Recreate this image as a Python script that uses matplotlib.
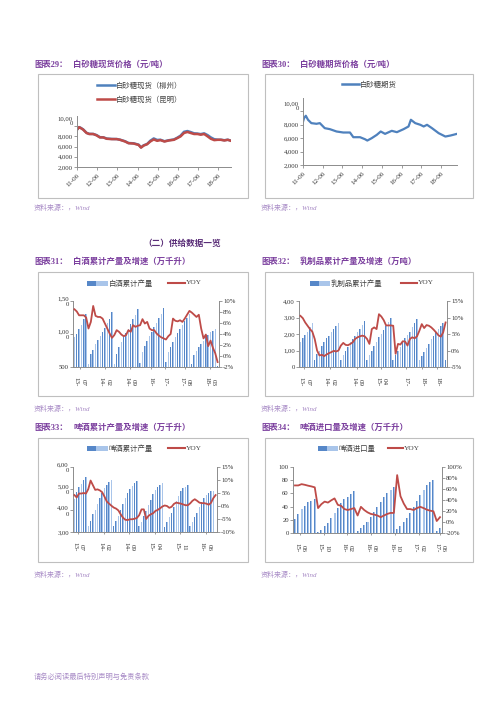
import numpy as np
import matplotlib
matplotlib.use('Agg')
from matplotlib import pyplot as plt
from matplotlib.patches import Rectangle
from matplotlib.lines import Line2D

plt.rcParams['font.family'] = ['Liberation Serif', 'Noto Sans CJK SC']

# ---------------- data ----------------
# fig 29: sugar spot price, yuan/t (x = decimal year)
spot_t = [2011.42, 2011.52, 2011.59, 2011.72, 2011.89, 2012.02, 2012.22, 2012.39, 2012.55, 2012.72,
          2012.89, 2013.14, 2013.39, 2013.55, 2013.80, 2013.97, 2014.22, 2014.47, 2014.59, 2014.72,
          2014.89, 2015.05, 2015.22, 2015.39, 2015.55, 2015.75, 2015.97, 2016.22, 2016.39, 2016.55,
          2016.72, 2016.89, 2017.05, 2017.22, 2017.39, 2017.55, 2017.72, 2017.89, 2018.05, 2018.22,
          2018.39, 2018.55, 2018.72, 2018.89, 2019.05]
spot_liuzhou = [9350, 9820, 9700, 9380, 8700, 8500, 8480, 8250, 7850, 7820,
                7580, 7500, 7480, 7350, 7050, 6700, 6650, 6380, 5850, 6250,
                6500, 7150, 7600, 7300, 7350, 7050, 7250, 7400, 7750, 8150,
                8900, 9050, 8850, 8600, 8550, 8450, 8600, 8250, 7800, 7450,
                7350, 7350, 7250, 7350, 7150]
spot_kunming = [9333, 9800, 9667, 9333, 8667, 8467, 8467, 8200, 7800, 7800,
                7533, 7467, 7467, 7333, 7000, 6667, 6600, 6333, 5800, 6200,
                6467, 7000, 7400, 7133, 7267, 7000, 7200, 7333, 7667, 8000,
                8667, 8867, 8667, 8467, 8467, 8333, 8467, 8000, 7533, 7267,
                7333, 7333, 7200, 7333, 7133]
sugar_ticks = ['11-06', '12-06', '13-06', '14-06', '15-06', '16-06', '17-06', '18-06']

# fig 30: sugar futures price
fut_t = [2011.42, 2011.47, 2011.56, 2011.67, 2011.84, 2012.10, 2012.27, 2012.52, 2012.78, 2013.12,
         2013.46, 2013.80, 2013.97, 2014.31, 2014.56, 2014.68, 2014.90, 2015.16, 2015.36, 2015.58,
         2015.92, 2016.18, 2016.52, 2016.77, 2016.89, 2017.11, 2017.37, 2017.54, 2017.71, 2017.96,
         2018.30, 2018.64, 2018.90, 2019.23]
fut_price = [8500, 9000, 9350, 8750, 8250, 8150, 8250, 7500, 7350, 7000,
             6850, 6850, 6150, 6150, 5850, 5650, 6000, 6500, 7000, 6650,
             7100, 6900, 7350, 7750, 8750, 8250, 8000, 7750, 8000, 7500,
             6750, 6250, 6400, 6650]

# fig 31: baijiu cumulative output and yoy
baijiu_prod = [950, 1000, 1075, 1130, 1225, 1300,
               550, 700, 765, 850, 915, 975, 1025, 1085, 1165, 1230, 1340,
               550, 700, 800, 875, 950, 1010, 1075, 1150, 1225, 1285, 1375,
               565, 725, 815, 900, 975, 1025, 1100, 1160, 1235, 1305, 1390,
               570, 720, 800, 880, 950, 1010, 1070, 1130, 1190, 1240, 1300,
               550, 675, 750, 800, 850, 900, 950, 985, 1025, 1050, 1075,
               520]
baijiu_yoy = [8.5, 8.1, 7.4, 7.4, 7.4, 7.0, 5.0, 6.2, 9.1, 7.3,
              7.1, 7.1, 6.8, 5.9, 5.0, 4.1, 3.3, 3.8, 4.7, 4.4,
              3.9, 3.6, 3.8, 4.7, 4.4, 5.6, 5.3, 5.5, 5.6, 6.7,
              5.9, 6.2, 5.0, 4.7, 4.7, 4.1, 3.7, 3.4, 3.2, 3.0,
              3.6, 4.0, 6.8, 6.4, 6.3, 6.5, 6.2, 6.8, 7.5, 8.2,
              7.9, 7.5, 7.1, 7.5, 5.0, 3.2, 3.9, 1.8, 2.8, 1.5,
              0.5, -1.1]
baijiu_labels = ['13-07', '14-02', '14-09', '16-', '17-', '17-08', '18-03']

# fig 32: dairy cumulative output and yoy
dairy_prod = [1500, 1740, 1940, 2100, 2400, 2660,
              400, 800, 1000, 1300, 1500, 1740, 1900, 2100, 2300, 2500, 2660,
              400, 700, 1000, 1200, 1500, 1700, 1900, 2100, 2300, 2540, 2800,
              400, 700, 1000, 1300, 1540, 1800, 2000, 2260, 2460, 2700, 3000,
              400, 700, 940, 1200, 1500, 1740, 1940, 2140, 2400, 2660, 2900,
              400, 660, 900, 1140, 1400, 1700, 1900, 2100, 2300, 2500, 2690,
              400]
dairy_yoy = [10.5, 9.8, 8.5, 7.5, 6.5, 5.7, 3.5, 0.0, -1.5, -1.3,
             -1.7, -1.2, -0.8, -0.5, -0.1, -0.3, 0.0, 1.5, 2.3, 1.7,
             1.6, 2.0, 2.5, 3.5, 4.0, 4.3, 4.5, 4.3, 3.5, 2.0,
             6.5, 7.0, 6.5, 11.0, 10.3, 9.2, 7.6, 7.6, 7.6, 7.5,
             -1.0, 2.0, 1.8, 2.8, 2.7, 1.5, 3.5, 4.0, 3.7, 4.3,
             6.0, 8.0, 6.8, 7.7, 7.5, 7.0, 6.3, 5.5, 4.6, 4.2,
             5.5, 8.5]
dairy_labels = ['13-07', '14-02', '14-09', '15-04', '17-', '18-', '18-']

# fig 33: beer cumulative output and yoy
beer_prod = [4540, 4850, 5080, 5230, 5380, 5540,
             3300, 3525, 3825, 4005, 4275, 4575, 4800, 5025, 5175, 5300, 5400,
             3255, 3495, 3750, 4005, 4275, 4575, 4800, 4995, 5145, 5250, 5360,
             3300, 3450, 3750, 3975, 4245, 4500, 4755, 4950, 5100, 5175, 5250,
             3225, 3450, 3675, 3900, 4155, 4425, 4650, 4875, 5025, 5100, 5180,
             3255, 3450, 3675, 3900, 4155, 4395, 4575, 4725, 4800, 4875, 4910,
             2900]
beer_yoy = [4.2, 3.3, 4.8, 4.8, 5.0, 4.8, 6.5, 9.8, 8.0, 6.2,
            6.4, 6.0, 5.3, 3.6, 1.7, 0.9, 0.1, -0.6, -1.0, -1.7,
            -3.2, -4.5, -5.3, -5.4, -5.1, -5.1, -4.9, -4.6, -3.5, -1.3,
            -1.3, -5.0, -3.8, -3.2, -2.8, -1.9, -1.5, -0.9, -0.2, 0.2,
            0.0, -0.7, -0.3, 0.8, 1.3, 1.1, 0.9, 0.6, 0.3, 0.3,
            1.0, 2.0, 2.6, 2.0, 1.3, 1.1, 1.1, 0.9, 0.5, 1.2,
            3.0, 4.2]
beer_labels = ['13-07', '14-02', '14-09', '15-04', '15-11', '16-06']

# fig 34: beer imports and yoy
imp_vol = [21.5, 29, 36, 41.5, 46.5, 49, 51.5,
           2, 5, 10, 15, 22, 31, 38, 45, 51, 55, 59, 63,
           3, 7, 12, 17, 24, 32, 40, 47, 54, 60, 65, 70,
           6, 10, 16, 22, 30, 40, 48, 58, 65, 72, 77, 81,
           3, 8]
imp_yoy = [66.5, 66.5, 68.8, 67.6, 66.0, 64.7, 63.0,
           25.3, 32.4, 37.1, 35.3, 39.4, 42.9, 31.2, 29.4, 23.5, 21.8, 23.5, 25.3,
           11.8, 27.6, 21.8, 17.6, 14.7, 13.5, 11.8, 8.8, 11.8, 14.7, 16.5, 16.5,
           85.3, 47.0, 33.5, 23.5, 23.5, 21.8, 25.3, 27.6, 25.3, 22.4, 20.6, 19.4,
           1.8, 8.8]
imp_labels = ['15-06', '15-10', '16-02', '16-06', '16-10', '17-02', '17-06']

# ---------------- style ----------------
BLUE = '#4F81BD'
RED = '#BE4B48'
PURPLE = '#7B3F9E'
LIGHTPURPLE = '#A88BC6'
GRAY = '#8C8C8C'
BORDER = '#BFBFBF'
BAR_LIGHT = '#A9C5EA'
BAR_DARK = '#5687C8'

W, H = 500, 707
fig = plt.figure(figsize=(5, 7.07), dpi=100)


def px(l, t, r, b):
    return [l / W, 1 - b / H, (r - l) / W, (b - t) / H]


def ftext(x, y, s, **kw):
    kw.setdefault('va', 'center')
    fig.text(x / W, 1 - y / H, s, **kw)


def box(l, t, r, b):
    fig.add_artist(Rectangle((l / W, 1 - b / H), (r - l) / W, (b - t) / H,
                             transform=fig.transFigure, fill=False, ec=BORDER, lw=0.8))


def leg_line(x0, x1, y, color, lw):
    fig.add_artist(Line2D([x0 / W, x1 / W], [1 - y / H, 1 - y / H],
                          transform=fig.transFigure, color=color, lw=lw))


def leg_bar(x0, x1, y):
    fig.add_artist(Rectangle((x0 / W, 1 - (y + 2.5) / H), (x1 - x0) / W, 5 / H,
                             transform=fig.transFigure, color=BAR_LIGHT, lw=0))
    fig.add_artist(Rectangle((x0 / W, 1 - (y + 2.5) / H), (x1 - x0) * 0.45 / W, 5 / H,
                             transform=fig.transFigure, color=BAR_DARK, lw=0))


def title(x, y, num, s):
    ftext(x, y, num, color=PURPLE, fontsize=6, fontweight='bold')
    ftext(x + 39, y, s, color=PURPLE, fontsize=6, fontweight='bold')


def source(x, y):
    ftext(x, y, '资料来源：，Wind', color=LIGHTPURPLE, fontsize=5, style='italic')


def base_style(ax):
    for s in ['top', 'right']:
        ax.spines[s].set_visible(False)
    for s in ['left', 'bottom']:
        ax.spines[s].set_color(GRAY)
        ax.spines[s].set_linewidth(0.7)
    ax.tick_params(colors=GRAY, labelcolor='#333333', labelsize=4.8, length=2, width=0.6, pad=1)
    ax.patch.set_alpha(0)


def price_axes(rect, t, series, colors, lw):
    ax = fig.add_axes(px(*rect))
    for v, c in zip(series, colors):
        ax.plot(t, v, color=c, lw=lw, solid_joinstyle='round')
    ax.set_xlim(2011.42, t[-1])
    ax.set_ylim(2000, 12000)
    ax.set_yticks([2000, 4000, 6000, 8000, 10000],
                  ['2,000', '4,000', '6,000', '8,000', '10,00\n0'])
    base_style(ax)
    for lab in ax.get_yticklabels():
        if '\n' in lab.get_text():
            lab.set_va('bottom')
            lab.set_linespacing(1.0)
    ticks = [2000 + int(s[:2]) + (int(s[3:]) - 1) / 12 for s in sugar_ticks]
    ax.set_xticks(ticks, sugar_ticks, rotation=45, ha='right', va='top', rotation_mode='anchor')
    ax.tick_params(axis='x', pad=2, labelsize=5)
    return ax


def xlab(s):
    if s.endswith('-'):
        return s
    yy, mm = s.split('-')
    return mm + '\n' + yy + '-'


def combo(rect, bars, yoy, ylim, yticks, ylabels, y2lim, y2ticks, tick_at, labels):
    ax = fig.add_axes(px(*rect))
    x = np.arange(len(bars))
    ax.bar(x, bars, width=0.62, color=BAR_LIGHT, linewidth=0)
    ax.bar(x - 0.17, bars, width=0.28, color=BAR_DARK, linewidth=0)
    ax.set_xlim(-0.6, len(bars) - 0.4)
    ax.set_ylim(*ylim)
    ax.set_yticks(yticks, ylabels)
    base_style(ax)
    ax.set_xticks(tick_at, [xlab(s) for s in labels], rotation=270, ha='center', va='top',
                  linespacing=1.4)
    ax.tick_params(axis='x', pad=6, length=1.5, labelsize=5)
    ax2 = ax.twinx()
    ax2.plot(x, yoy, color=RED, lw=1.3, solid_joinstyle='round')
    ax2.set_ylim(*y2lim)
    ax2.set_yticks(y2ticks, ['%d%%' % v for v in y2ticks])
    for s in ['top', 'left', 'bottom']:
        ax2.spines[s].set_visible(False)
    ax2.spines['right'].set_color(GRAY)
    ax2.spines['right'].set_linewidth(0.7)
    ax2.tick_params(colors=GRAY, labelcolor='#333333', labelsize=4.8, length=2, width=0.6, pad=1)
    return ax, ax2


# ---------------- fig 29 ----------------
title(34, 65, '图表29：', '白砂糖现货价格（元/吨）')
box(38, 74, 248, 198)
price_axes((77, 116, 231, 167), spot_t, [spot_liuzhou, spot_kunming], [BLUE, RED], 1.8)
leg_line(97, 115, 85, BLUE, 1.8)
ftext(116, 85, '白砂糖现货（柳州）', fontsize=5.3, color='#404040')
leg_line(97, 115, 99, RED, 1.8)
ftext(116, 99, '白砂糖现货（昆明）', fontsize=5.3, color='#404040')
source(34, 207)

# ---------------- fig 30 ----------------
title(261, 65, '图表30：', '白砂糖期货价格（元/吨）')
box(265, 74, 473, 198)
price_axes((303, 98, 457, 165), fut_t, [fut_price], [BLUE], 1.6)
leg_line(342, 359, 84, BLUE, 1.8)
ftext(360, 84, '白砂糖期货', fontsize=5.3, color='#404040')
source(261, 207)

# ---------------- section header ----------------
ftext(143, 244, '（二）供给数据一览', fontsize=6.2, color='#5A2E78', fontweight='bold')

# ---------------- fig 31 ----------------
title(34, 262, '图表31：', '白酒累计产量及增速（万千升）')
box(38, 272, 248, 396)
combo((73, 301, 219, 367), baijiu_prod, baijiu_yoy, (500, 1500), [500, 1000, 1500],
      ['500', '1,00\n0', '1,50\n0'], (-2, 10), [-2, 0, 2, 4, 6, 8, 10],
      [2.2, 12.9, 23.7, 32.5, 38.4, 47.1, 57.7], baijiu_labels)
leg_bar(87, 108, 283)
ftext(108.5, 283, '白酒累计产量', fontsize=5.3, color='#404040')
leg_line(168, 185, 283, RED, 1.5)
ftext(186, 283, 'YOY', fontsize=5.3, color='#404040')
source(34, 408)

# ---------------- fig 32 ----------------
title(261, 262, '图表32：', '乳制品累计产量及增速（万吨）')
box(265, 272, 473, 396)
combo((299, 301, 447, 367), dairy_prod, dairy_yoy, (0, 4000), [0, 1000, 2000, 3000, 4000],
      ['0', '1,00', '2,00', '3,00', '4,00'], (-5, 15), [-5, 0, 5, 10, 15],
      [1.7, 12.3, 23.7, 34.0, 44.4, 51.3, 57.6], dairy_labels)
leg_bar(310, 330, 283)
ftext(330.5, 283, '乳制品累计产量', fontsize=5.3, color='#404040')
leg_line(401, 417, 283, RED, 1.5)
ftext(418, 283, 'YOY', fontsize=5.3, color='#404040')
source(261, 408)

# ---------------- fig 33 ----------------
title(34, 428, '图表33：', '啤酒累计产量及增速（万千升）')
box(38, 438, 248, 562)
combo((73, 467, 217, 532), beer_prod, beer_yoy, (3000, 6000), [3000, 4000, 5000, 6000],
      ['3,00', '4,00\n0', '5,00\n0', '6,00\n0'], (-10, 15), [-10, -5, 0, 5, 10, 15],
      [1.7, 12.7, 23.7, 34.7, 45.7, 56.7], beer_labels)
leg_bar(87, 108, 448)
ftext(108.5, 448, '啤酒累计产量', fontsize=5.3, color='#404040')
leg_line(168, 185, 448, RED, 1.5)
ftext(186, 448, 'YOY', fontsize=5.3, color='#404040')
source(34, 574)

# ---------------- fig 34 ----------------
title(261, 428, '图表34：', '啤酒进口量及增速（万千升）')
box(265, 438, 473, 562)
combo((293, 467, 442, 533), imp_vol, imp_yoy, (0, 100), [0, 20, 40, 60, 80, 100],
      ['0', '20', '40', '60', '80', '100'], (-20, 100), [-20, 0, 20, 40, 60, 80, 100],
      [1.5, 8.7, 15.9, 23.1, 30.3, 37.5, 44.0], imp_labels)
leg_bar(318, 338, 448)
ftext(338.5, 448, '啤酒进口量', fontsize=5.3, color='#404040')
leg_line(388, 403, 448, RED, 1.5)
ftext(404, 448, 'YOY', fontsize=5.3, color='#404040')
source(261, 574)

# ---------------- footer ----------------
ftext(34, 676, '请务必阅读最后特别声明与免责条款', fontsize=5.2, color=LIGHTPURPLE)

fig.savefig('out.png', dpi=100)
